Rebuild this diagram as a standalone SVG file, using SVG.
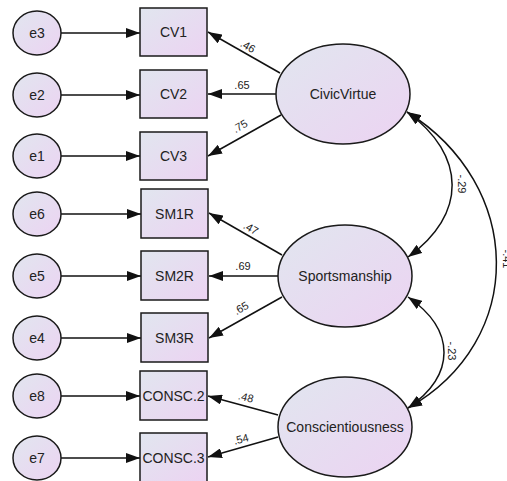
<svg xmlns="http://www.w3.org/2000/svg" width="507" height="481" viewBox="0 0 507 481">
  <style>
    .node { stroke: #1a1a1a; stroke-width: 1.5; fill: url(#shade); }
    .lbl { font-family: "Liberation Sans", Arial, sans-serif; font-size: 14px; fill: #222; text-anchor: middle; dominant-baseline: central; }
    .coef { font-family: "Liberation Sans", Arial, sans-serif; font-size: 11px; fill: #222; text-anchor: middle; dominant-baseline: central; }
    .edge { stroke: #111; stroke-width: 1.5; fill: none; marker-end: url(#head); }
    .cov { stroke: #111; stroke-width: 1.5; fill: none; marker-start: url(#head); marker-end: url(#head); }
  </style>
  <defs>
    <linearGradient id="shade" x1="0" y1="0" x2="1" y2="1">
      <stop offset="0" stop-color="#e1e6ef"/>
      <stop offset="1" stop-color="#ecd3f2"/>
    </linearGradient>
    <marker id="head" viewBox="0 0 14 10" refX="14" refY="5" markerWidth="14" markerHeight="10" markerUnits="userSpaceOnUse" orient="auto-start-reverse">
      <path d="M0,0 L14,5 L0,10 z" fill="#111"/>
    </marker>
  </defs>

  <!-- connectors -->
  <g id="connectors">
    <!-- error terms to indicators -->
    <line class="edge" x1="61" y1="33" x2="140" y2="33"/>
    <line class="edge" x1="61" y1="95" x2="140" y2="95"/>
    <line class="edge" x1="61" y1="156" x2="140" y2="156"/>
    <line class="edge" x1="61" y1="214" x2="141" y2="214"/>
    <line class="edge" x1="61" y1="276" x2="141" y2="276"/>
    <line class="edge" x1="61" y1="338" x2="141" y2="338"/>
    <line class="edge" x1="61" y1="396" x2="140" y2="396"/>
    <line class="edge" x1="61" y1="458" x2="140" y2="458"/>
    <!-- loadings -->
    <line class="edge" x1="280" y1="73" x2="208" y2="32"/>
    <line class="edge" x1="276" y1="94" x2="208" y2="94"/>
    <line class="edge" x1="281" y1="115" x2="208" y2="156"/>
    <line class="edge" x1="282" y1="255" x2="209" y2="213"/>
    <line class="edge" x1="278" y1="276" x2="209" y2="276"/>
    <line class="edge" x1="282" y1="297" x2="209" y2="338"/>
    <line class="edge" x1="278" y1="415" x2="208" y2="396"/>
    <line class="edge" x1="278" y1="437" x2="208" y2="457"/>
    <!-- covariances -->
    <path class="cov" d="M407,112 C467,155 467,215 408,257"/>
    <path class="cov" d="M408,297 C456,330 456,375 408,408"/>
    <path class="cov" d="M407,112 C524,185 528,340 408,408"/>
  </g>

  <!-- coefficient labels -->
  <g id="coefficients">
    <text class="coef" transform="translate(248,46) rotate(30)">.46</text>
    <text class="coef" x="242" y="85">.65</text>
    <text class="coef" transform="translate(240,126) rotate(-30)">.75</text>
    <text class="coef" transform="translate(251,228) rotate(30)">.47</text>
    <text class="coef" x="243" y="266">.69</text>
    <text class="coef" transform="translate(241,308) rotate(-30)">.65</text>
    <text class="coef" transform="translate(246,397) rotate(15)">.48</text>
    <text class="coef" transform="translate(241,439) rotate(-15)">.54</text>
    <text class="coef" transform="translate(462,184) rotate(90)">-.29</text>
    <text class="coef" transform="translate(452,351) rotate(90)">-.23</text>
    <text class="coef" transform="translate(507,259) rotate(90)">-.41</text>
  </g>

  <!-- error terms -->
  <g id="e3"><ellipse class="node" cx="37" cy="33" rx="24" ry="22"/><text class="lbl" x="37" y="33">e3</text></g>
  <g id="e2"><ellipse class="node" cx="37" cy="95" rx="24" ry="22"/><text class="lbl" x="37" y="95">e2</text></g>
  <g id="e1"><ellipse class="node" cx="37" cy="156" rx="24" ry="22"/><text class="lbl" x="37" y="156">e1</text></g>
  <g id="e6"><ellipse class="node" cx="37" cy="214" rx="24" ry="22"/><text class="lbl" x="37" y="214">e6</text></g>
  <g id="e5"><ellipse class="node" cx="37" cy="276" rx="24" ry="22"/><text class="lbl" x="37" y="276">e5</text></g>
  <g id="e4"><ellipse class="node" cx="37" cy="338" rx="24" ry="22"/><text class="lbl" x="37" y="338">e4</text></g>
  <g id="e8"><ellipse class="node" cx="37" cy="396" rx="24" ry="22"/><text class="lbl" x="37" y="396">e8</text></g>
  <g id="e7"><ellipse class="node" cx="37" cy="458" rx="24" ry="22"/><text class="lbl" x="37" y="458">e7</text></g>

  <!-- observed indicators -->
  <g id="CV1"><rect class="node" x="140" y="8" width="67" height="48"/><text class="lbl" x="173.5" y="32">CV1</text></g>
  <g id="CV2"><rect class="node" x="140" y="70" width="67" height="48"/><text class="lbl" x="173.5" y="94">CV2</text></g>
  <g id="CV3"><rect class="node" x="140" y="132" width="67" height="48"/><text class="lbl" x="173.5" y="156">CV3</text></g>
  <g id="SM1R"><rect class="node" x="141" y="189" width="67" height="49"/><text class="lbl" x="174.5" y="213.5">SM1R</text></g>
  <g id="SM2R"><rect class="node" x="141" y="251" width="67" height="49"/><text class="lbl" x="174.5" y="275.5">SM2R</text></g>
  <g id="SM3R"><rect class="node" x="141" y="313" width="67" height="49"/><text class="lbl" x="174.5" y="337.5">SM3R</text></g>
  <g id="CONSC2"><rect class="node" x="140" y="371" width="67" height="49"/><text class="lbl" x="173.5" y="395.5">CONSC.2</text></g>
  <g id="CONSC3"><rect class="node" x="140" y="433" width="67" height="49"/><text class="lbl" x="173.5" y="457.5">CONSC.3</text></g>

  <!-- latent factors -->
  <g id="CivicVirtue"><ellipse class="node" cx="343" cy="94" rx="67" ry="50"/><text class="lbl" x="343" y="94">CivicVirtue</text></g>
  <g id="Sportsmanship"><ellipse class="node" cx="345" cy="276" rx="67" ry="51"/><text class="lbl" x="345" y="276">Sportsmanship</text></g>
  <g id="Conscientiousness"><ellipse class="node" cx="345" cy="427" rx="67" ry="50"/><text class="lbl" x="345" y="427">Conscientiousness</text></g>
</svg>
